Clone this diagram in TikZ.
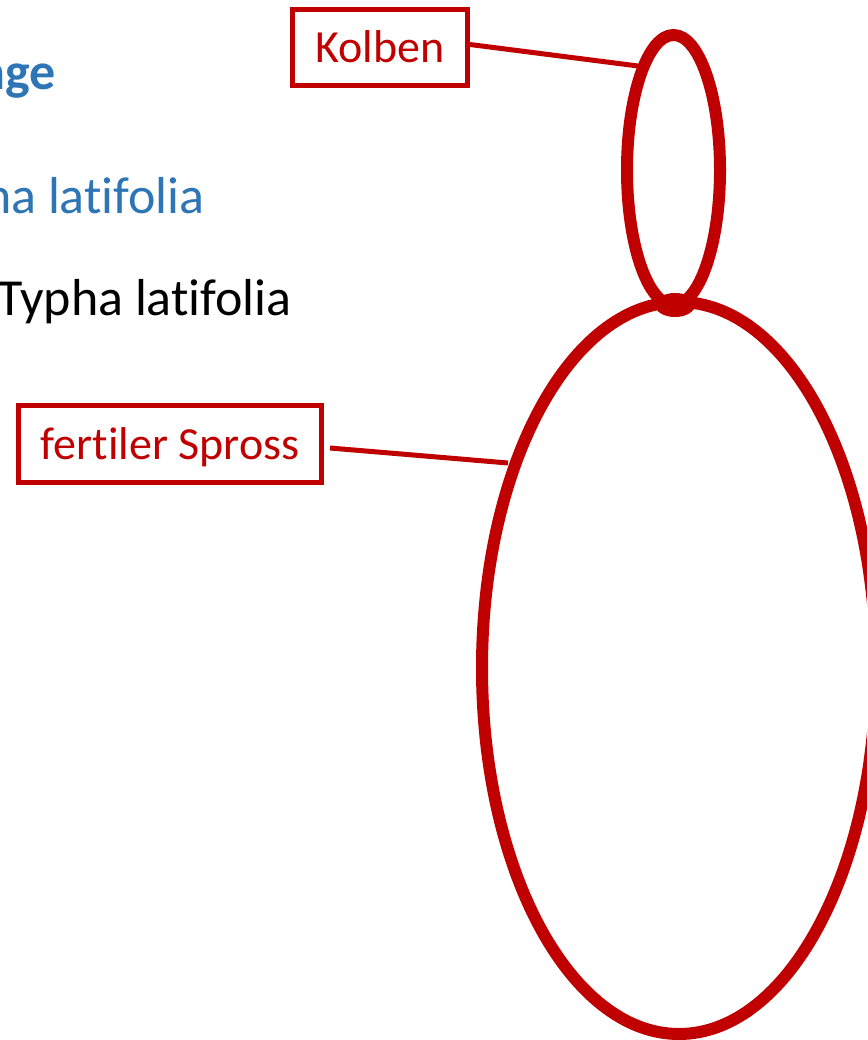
\documentclass[tikz,border=0pt]{standalone}
\usepackage{fontspec}
\setmainfont{Carlito}[RawFeature={-liga;-clig;-calt;-dlig}]
\definecolor{dred}{HTML}{C00000}
\definecolor{hblue}{HTML}{2E75B6}
\begin{document}
\begin{tikzpicture}[x=1pt,y=-1pt,
  labelbox/.style={draw=dred,line width=5pt,text=dred,font=\fontsize{46}{50}\selectfont,
    text height=30pt,text depth=0pt,inner sep=0pt},
  conn/.style={draw=dred,line width=5pt},
  organ/.style={draw=dred,line width=12pt}]
\useasboundingbox (0,0) rectangle (867,1040);
\clip (0,0) rectangle (867,1040);
% header texts (cut off at the left edge)
\node[anchor=base east,text=hblue,font=\fontsize{52}{56}\selectfont\bfseries,inner sep=0pt] (head) at (56,90) {nge};
\node[anchor=base east,text=hblue,font=\fontsize{52}{56}\selectfont,inner sep=0pt] (sub) at (205,214) {Typha latifolia};
\node[anchor=base east,text=black,font=\fontsize{52}{56}\selectfont,inner sep=0pt] (name) at (292,315) {Typha latifolia};
% organs
\draw[organ] (679,668) ellipse [x radius=197,y radius=366];
\draw[organ] (673.5,170) ellipse [x radius=46.5,y radius=135];
\fill[dred] (675,305) ellipse [x radius=20,y radius=12];
% labels
\node[labelbox,minimum width=175pt,minimum height=76pt] (kolben) at (380,47.5) {Kolben};
\node[labelbox,minimum width=303pt,minimum height=77pt] (spross) at (170,444) {fertiler Spross};
\coordinate (kend) at (638,66);
\coordinate (send) at (508,463);
\draw[conn] ([yshift=3pt]kolben.east) -- (kend);
\draw[conn] ([shift={(6,4)}]spross.east) -- (send);
\end{tikzpicture}
\end{document}
